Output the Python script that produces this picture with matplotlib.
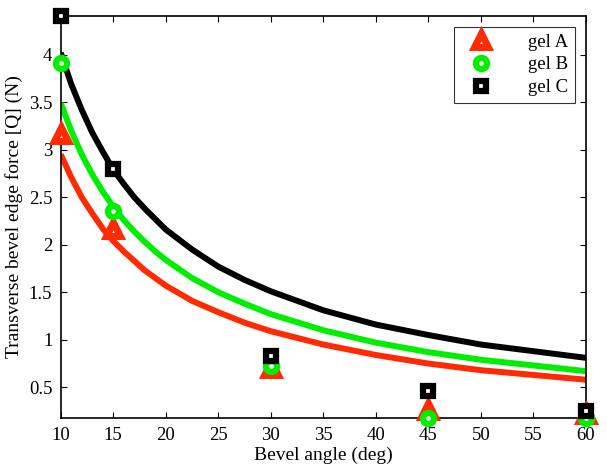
import numpy as np
import matplotlib
matplotlib.use('Agg')
import matplotlib.pyplot as plt

plt.rcParams['font.family'] = ['Liberation Serif', 'DejaVu Serif']

# measured points
angles = [10, 15, 30, 45, 60]
gel_a = [3.17, 2.17, 0.70, 0.26, 0.22]
gel_b = [3.91, 2.35, 0.72, 0.18, 0.18]
gel_c = [4.41, 2.80, 0.83, 0.46, 0.25]

# fitted curves
fit_x = [10, 11, 12, 13, 14, 15, 16, 17, 18, 19, 20, 22.5, 25, 27.5, 30, 35, 40, 45, 50, 55, 60]
fit_a = [2.95, 2.71, 2.50, 2.33, 2.17, 2.04, 1.93, 1.83, 1.73, 1.65, 1.57, 1.41, 1.29, 1.18, 1.09, 0.95, 0.84, 0.75, 0.68, 0.63, 0.58]
fit_b = [3.49, 3.20, 2.95, 2.74, 2.56, 2.40, 2.26, 2.14, 2.03, 1.93, 1.84, 1.65, 1.50, 1.38, 1.27, 1.10, 0.97, 0.87, 0.79, 0.73, 0.67]
fit_c = [4.02, 3.69, 3.42, 3.18, 2.98, 2.79, 2.64, 2.50, 2.38, 2.27, 2.16, 1.95, 1.77, 1.63, 1.51, 1.31, 1.16, 1.05, 0.95, 0.88, 0.81]

red = '#ff2a00'
green = '#00ee00'
black = '#000000'

fig = plt.figure(figsize=(6.07, 4.74), dpi=100)
ax = fig.add_axes([0.100, 0.1175, 0.8654, 0.8495])

for yy, col in [(fit_a, red), (fit_b, green), (fit_c, black)]:
    ax.plot(fit_x, yy, color=col, lw=4.3, solid_capstyle='butt', solid_joinstyle='round')

ax.plot(angles, gel_a, ls='none', marker='^', ms=10, mew=5, mec=red, mfc='white',
        label='gel A', clip_on=False, zorder=5)
ax.plot(angles, gel_b, ls='none', marker='o', ms=8, mew=4.5, mec=green, mfc='white',
        label='gel B', clip_on=False, zorder=6)
ax.plot(angles, gel_c, ls='none', marker='s', ms=7, mew=4.5, mec=black, mfc='white',
        label='gel C', clip_on=False, zorder=7)

ax.set_xlim(10, 60)
ax.set_ylim(0.174, 4.41)
ax.set_xticks(np.arange(10, 61, 5))
ax.set_yticks([0.5, 1, 1.5, 2, 2.5, 3, 3.5, 4])
ax.set_yticklabels(['0.5', '1', '1.5', '2', '2.5', '3', '3.5', '4'])
ax.tick_params(direction='in', top=True, right=True, labelsize=13.5, length=4, width=0.8, pad=6)
for s in ax.spines.values():
    s.set_linewidth(1.2)

ax.set_xlabel('Bevel angle (deg)', fontsize=14, labelpad=2)
ax.set_ylabel('Transverse bevel edge force [Q] (N)', fontsize=14, labelpad=4)

leg = ax.legend(loc='upper right', fontsize=13.5, frameon=True, fancybox=False,
                edgecolor='black', borderaxespad=0.6, handlelength=2.2,
                handletextpad=1.4, labelspacing=0.3, borderpad=0.35, markerfirst=True)
leg.get_frame().set_linewidth(0.8)

fig.savefig('out.png', dpi=100)
